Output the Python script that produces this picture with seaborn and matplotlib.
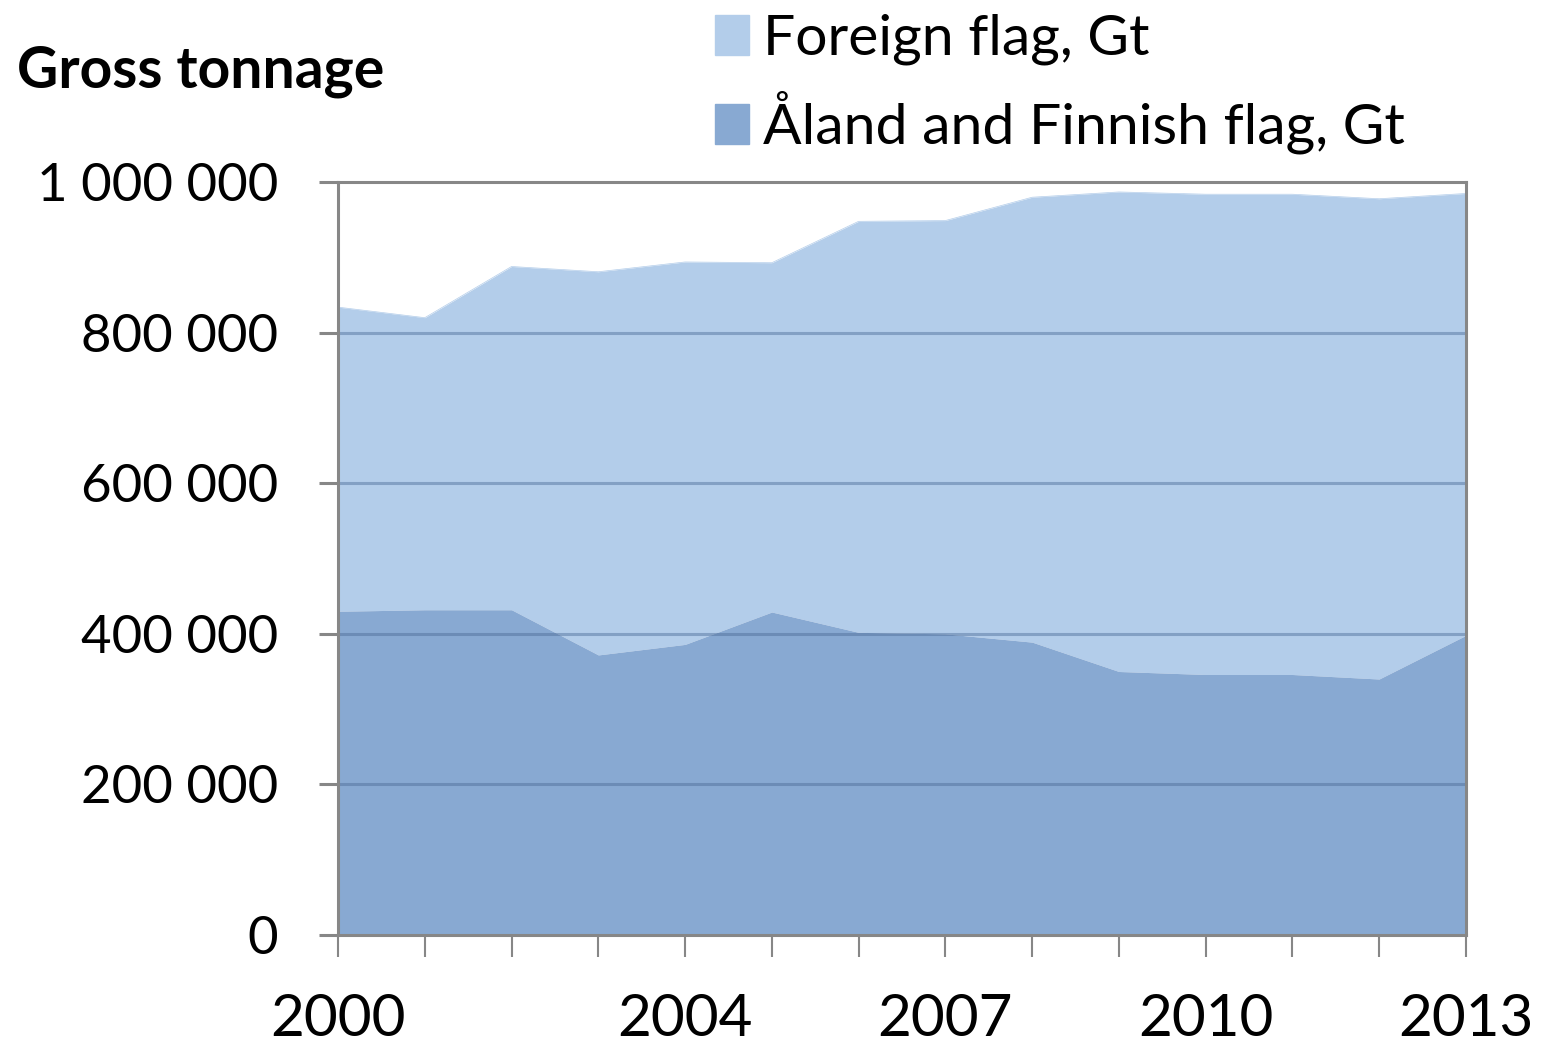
import matplotlib
matplotlib.use('Agg')
import matplotlib.pyplot as plt
import seaborn as sns
import pandas as pd
from matplotlib.patches import Patch

years = list(range(2000, 2014))
aland_finnish = [430000, 432000, 432000, 372000, 386000, 429000, 402000,
                 400000, 389000, 350000, 346000, 346000, 340000, 398000]
total = [834000, 820000, 888000, 881000, 894000, 893000, 948000,
         949000, 980000, 987000, 984000, 984000, 978000, 985000]
foreign = [t - a for t, a in zip(total, aland_finnish)]
year_labels = ['2000', '', '', '', '2004', '', '', '2007', '', '', '2010', '', '', '2013']
y_ticks = [0, 200000, 400000, 600000, 800000, 1000000]
y_labels = ['0', '200 000', '400 000', '600 000', '800 000', '1 000 000']

df = pd.DataFrame({'year': years, 'aland': aland_finnish, 'foreign': foreign})
df['top'] = df['aland'] + df['foreign']

sns.set_theme(style='white')
plt.rcParams['font.family'] = ['Lato', 'DejaVu Sans']
plt.rcParams['text.color'] = 'black'
plt.rcParams['xtick.color'] = 'black'
plt.rcParams['ytick.color'] = 'black'

c_foreign = '#B3CDEA'
c_aland = '#88A9D2'
c_axis = '#878787'

fig = plt.figure(figsize=(15.57, 10.47), dpi=100)
ax = fig.add_axes([0.2171, 0.107, 0.7244, 0.719])

ax.fill_between(df['year'], df['aland'], df['top'], color=c_foreign, lw=0, zorder=1)
ax.fill_between(df['year'], 0, df['aland'], color=c_aland, lw=0, zorder=1)
sns.lineplot(data=df, x='year', y='top', ax=ax, color=c_foreign, lw=0.5, zorder=2)

ax.set_xlim(2000, 2013)
ax.set_ylim(0, 1000000)
ax.set_xticks(years)
ax.set_xticklabels(year_labels, fontsize=42)
ax.set_yticks(y_ticks)
ax.set_yticklabels(y_labels, fontsize=38)
ax.set_xlabel('')
ax.set_ylabel('')

for v in y_ticks[1:-1]:
    ax.axhline(v, color='#4A6A96', alpha=0.45, lw=2.2, zorder=3)

for s in ax.spines.values():
    s.set_visible(True)
    s.set_color(c_axis)
    s.set_linewidth(2.2)
    s.set_zorder(4)

ax.tick_params(axis='x', direction='out', length=16, width=1.5, color=c_axis,
               labelcolor='black', pad=26, bottom=True)
ax.tick_params(axis='y', direction='out', length=14, width=2.2, color=c_axis,
               labelcolor='black', pad=29, left=True)

fig.text(0.011, 0.932, 'Gross tonnage', fontsize=41, fontweight='bold', ha='left', va='center')

handles = [Patch(color=c_foreign, label='Foreign flag, Gt'),
           Patch(color=c_aland, label='Åland and Finnish flag, Gt')]
fig.legend(handles=handles, loc='upper left', bbox_to_anchor=(0.426, 1.036),
           frameon=False, fontsize=41, handlelength=0.6, handleheight=0.7,
           handletextpad=0.25, labelspacing=0.45)

fig.savefig('out.png', dpi=100)
